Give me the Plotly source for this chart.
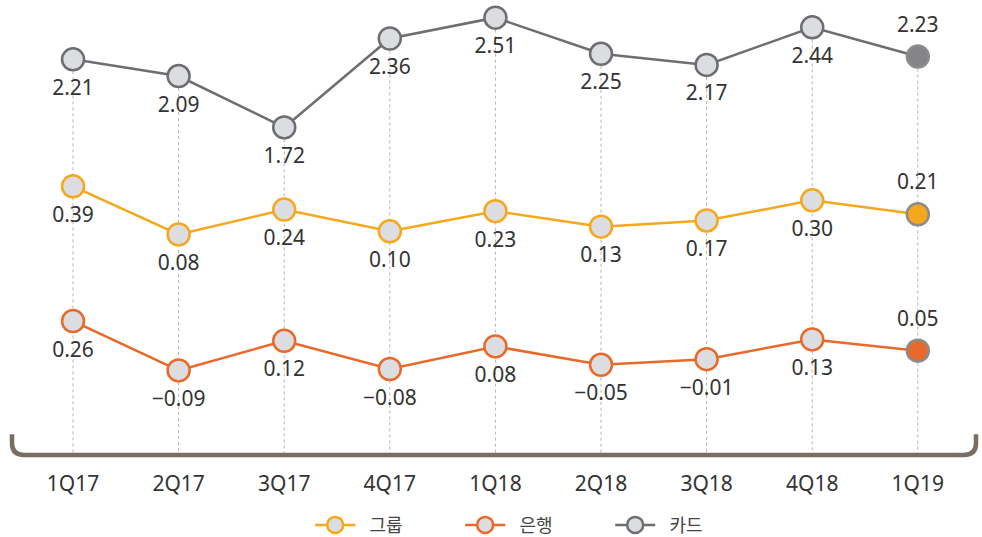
import plotly.graph_objects as go

quarters = ["1Q17", "2Q17", "3Q17", "4Q17", "1Q18", "2Q18", "3Q18", "4Q18", "1Q19"]
card = [2.21, 2.09, 1.72, 2.36, 2.51, 2.25, 2.17, 2.44, 2.23]
group = [0.39, 0.08, 0.24, 0.10, 0.23, 0.13, 0.17, 0.30, 0.21]
bank = [0.26, -0.09, 0.12, -0.08, 0.08, -0.05, -0.01, 0.13, 0.05]

FONT = "Noto Sans, Noto Sans CJK KR, sans-serif"
PT_FILL = "#dcdde0"

# each series sits on its own stacked axis band
card_range = [-0.637, 2.601]
group_range = [-1.343, 1.560]
bank_range = [-0.690, 2.502]

fig = go.Figure()

# dashed guide lines from the card points down to the baseline
gx, gy = [], []
for q, v in zip(quarters, card):
    gx += [q, q, None]
    gy += [v, card_range[0], None]
fig.add_trace(go.Scatter(
    x=gx, y=gy, mode="lines", yaxis="y",
    line=dict(color="#b5b5b5", width=1, dash="3px,3px"),
    hoverinfo="skip", showlegend=False
))


def series(name, vals, color, last_fill, axis):
    n = len(vals)
    fills = [PT_FILL] * (n - 1) + [last_fill]
    edges = [color] * (n - 1) + ["#8c8c8c"]
    line_tr = go.Scatter(
        x=quarters, y=vals, name="\u00a0\u00a0" + name, yaxis=axis,
        mode="lines+markers",
        line=dict(color=color, width=2.5),
        marker=dict(size=22, color=fills, line=dict(color=edges, width=2.5)),
        cliponaxis=False,
    )
    # value labels, pushed away from the points by an invisible larger marker
    pos = ["bottom center"] * (n - 1) + ["top center"]
    text_tr = go.Scatter(
        x=quarters, y=vals, yaxis=axis, mode="markers+text",
        marker=dict(size=30, opacity=0),
        text=[f"{v:.2f}".replace("-", "\u2212") for v in vals],
        textposition=pos,
        textfont=dict(size=21, color="#333333", family=FONT),
        hoverinfo="skip", showlegend=False, cliponaxis=False,
    )
    return [line_tr, text_tr]


for tr in series("그룹", group, "#f5a81c", "#f5a81c", "y2"):
    fig.add_trace(tr)
for tr in series("은행", bank, "#e8692a", "#e8692a", "y3"):
    fig.add_trace(tr)
for tr in series("카드", card, "#6d6e71", "#858589", "y"):
    fig.add_trace(tr)

# bracket-shaped baseline
fig.add_shape(
    type="path", xref="paper", yref="paper",
    path="M 0,0.046 L 0,0.026 Q 0,0 0.0125,0 L 0.9875,0 Q 1,0 1,0.026 L 1,0.046",
    line=dict(color="#7a6e61", width=4.5),
)

hidden = dict(visible=False, fixedrange=True)
fig.update_layout(
    width=982, height=537,
    margin=dict(l=12, r=6, t=5, b=82),
    plot_bgcolor="white", paper_bgcolor="white",
    font=dict(family=FONT, color="#333333"),
    xaxis=dict(
        type="category", range=[-0.578, 8.551],
        showgrid=False, zeroline=False, showline=False,
        ticks="", ticklabelstandoff=14,
        tickfont=dict(size=21, color="#333333"),
    ),
    yaxis=dict(range=card_range, **hidden),
    yaxis2=dict(range=group_range, overlaying="y", **hidden),
    yaxis3=dict(range=bank_range, overlaying="y", **hidden),
    legend=dict(
        orientation="h", xref="container", yref="container",
        x=0.545, xanchor="center", y=0.022, yanchor="middle",
        font=dict(size=18, color="#444444"),
        itemwidth=40, entrywidth=95, traceorder="normal",
    ),
    showlegend=True,
)

fig.write_html(
    "out.html",
    config={"displayModeBar": False},
    post_script="document.body.style.margin='0';",
)
